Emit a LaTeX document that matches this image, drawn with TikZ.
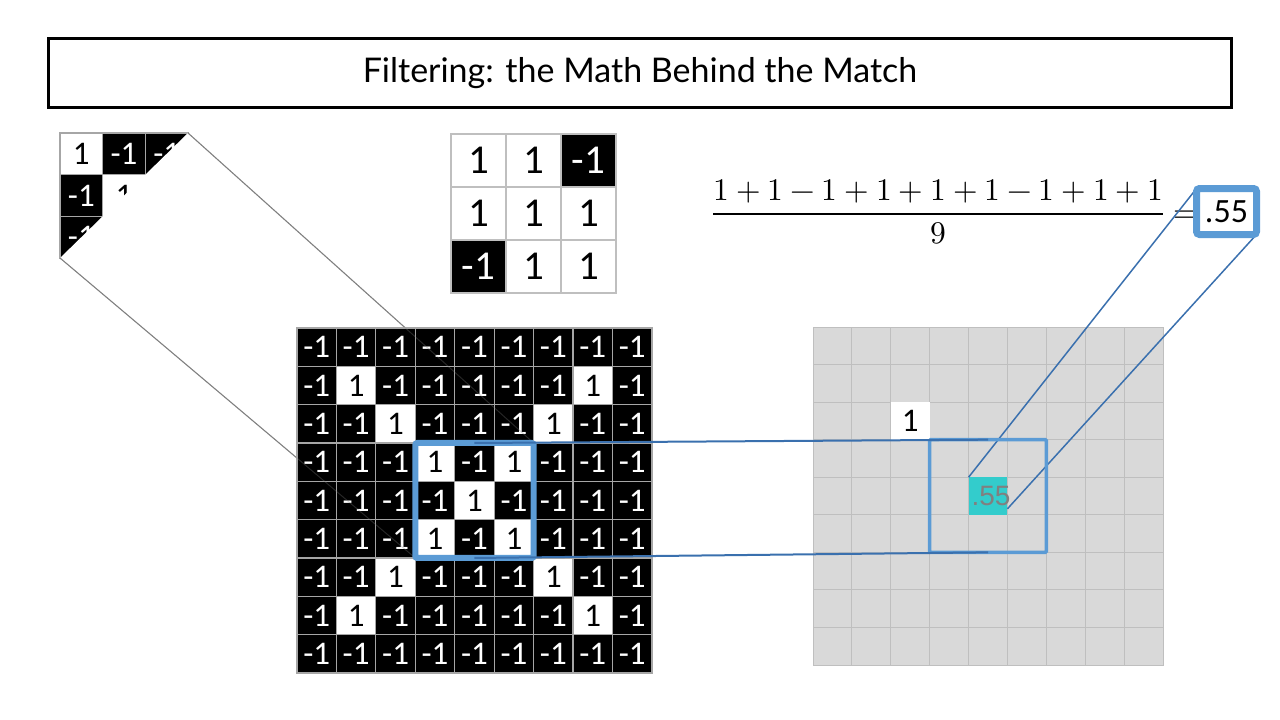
\documentclass[tikz,border=0pt]{standalone}
\usepackage{fontspec}
\usepackage{unicode-math}
\setmathfont{Latin Modern Math}
\usetikzlibrary{fit}
\newfontfamily\carlito{Carlito}
\newfontfamily\titlefnt{Lato}
\newfontfamily\arialfnt{Liberation Sans}
\definecolor{blueA}{HTML}{5B9BD5}
\definecolor{blueD}{HTML}{3A70AE}
\definecolor{tealc}{HTML}{33CCCC}
\definecolor{gridg}{HTML}{A6A6A6}
\definecolor{lightg}{HTML}{D9D9D9}
\definecolor{lineg}{HTML}{BFBFBF}
\definecolor{zoomg}{HTML}{7F7F7F}
\definecolor{valg}{HTML}{808080}
\pgfdeclarelayer{back}
\pgfdeclarelayer{front}
\pgfsetlayers{back,main,front}
\tikzset{
  cellbase/.style={rectangle, inner sep=0pt, outer sep=0pt, line width=1.2pt},
  bigP/.style={cellbase, fill=white, draw=gridg, text=black, minimum width=39.44pt, minimum height=38.33pt, font=\carlito\fontsize{33}{35}\selectfont},
  bigN/.style={bigP, fill=black, text=white},
  partP/.style={bigP, minimum width=42.67pt, minimum height=41.67pt},
  partN/.style={partP, fill=black, text=white},
  filtP/.style={cellbase, fill=white, draw=lineg, text=black, minimum width=55pt, minimum height=53pt, font=\carlito\fontsize{41}{43}\selectfont},
  filtN/.style={filtP, fill=black, text=white},
  rg/.style={cellbase, fill=lightg, draw=lineg, line width=1pt, minimum width=38.89pt, minimum height=37.56pt},
  hibox/.style={draw=blueA, rounded corners=2pt, inner sep=0pt, outer sep=0pt},
  conn/.style={draw=blueD, line width=2pt},
  thinconn/.style={draw=blueD, line width=1.5pt},
  zoomline/.style={draw=zoomg, line width=1pt},
}
\begin{document}
\begin{tikzpicture}[x=1pt,y=-1pt]
\useasboundingbox (0,0) rectangle (1280,720);

% title
\node[draw=black, line width=3pt, minimum width=1183pt, minimum height=69pt, inner sep=0pt,
      font=\titlefnt\fontsize{34}{38}\selectfont] (title) at (640,73) {Filtering: the Math Behind the Match};

% filter
\foreach \row [count=\r] in {{1,1,-1},{1,1,1},{-1,1,1}}{
  \foreach \v [count=\c] in \row {
    \ifnum\v>0
      \node[filtP] (F-\r-\c) at ({451+(\c-0.5)*55},{134+(\r-0.5)*53}) {1};
    \else
      \node[filtN] (F-\r-\c) at ({451+(\c-0.5)*55},{134+(\r-0.5)*53}) {-1};
    \fi
  }
}

% formula
\node[anchor=base west, inner sep=0pt] (frac) at (712,222)
  {\fontsize{31.5}{36}\selectfont $\dfrac{1+1-1+1+1+1-1+1+1}{9}=$};

% big grid
\foreach \row [count=\r] in {
 {-1,-1,-1,-1,-1,-1,-1,-1,-1},
 {-1,1,-1,-1,-1,-1,-1,1,-1},
 {-1,-1,1,-1,-1,-1,1,-1,-1},
 {-1,-1,-1,1,-1,1,-1,-1,-1},
 {-1,-1,-1,-1,1,-1,-1,-1,-1},
 {-1,-1,-1,1,-1,1,-1,-1,-1},
 {-1,-1,1,-1,-1,-1,1,-1,-1},
 {-1,1,-1,-1,-1,-1,-1,1,-1},
 {-1,-1,-1,-1,-1,-1,-1,-1,-1}}{
  \foreach \v [count=\c] in \row {
    \ifnum\v>0
      \node[bigP] (B-\r-\c) at ({297+(\c-0.5)*39.44},{328+(\r-0.5)*38.33}) {1};
    \else
      \node[bigN] (B-\r-\c) at ({297+(\c-0.5)*39.44},{328+(\r-0.5)*38.33}) {-1};
    \fi
  }
}

% right grid
\foreach \r in {1,...,9}{
  \foreach \c in {1,...,9}{
    \node[rg] (R-\r-\c) at ({813+(\c-0.5)*38.89},{327+(\r-0.5)*37.56}) {};
  }
}
\node[rg, draw=none, fill=white, font=\carlito\fontsize{33}{35}\selectfont] (Rone) at (R-3-3.center) {1};
\node[rg, draw=none, fill=tealc] (Rval) at (R-5-5.center) {};
\node[text=valg, font=\arialfnt\fontsize{28}{30}\selectfont, inner sep=0pt] (Rvaltext) at ([xshift=3pt]Rval.center) {.55};

% front layer: highlight boxes and connectors
\begin{pgfonlayer}{front}
  \node[hibox, line width=6pt, fit=(B-4-4)(B-6-6)] (bigbox) {};
  \node[hibox, line width=3.5pt, rounded corners=1pt, fit=(R-4-4)(R-6-6)] (smallbox) {};
  \node[hibox, line width=7pt, rounded corners=3pt, fill=white, minimum width=60pt, minimum height=46pt,
        font=\carlito\fontsize{34}{36}\selectfont] (res) at (1226.5,211.5) {.55};
  \draw[conn] (bigbox.north) -- (smallbox.north);
  \draw[conn] (bigbox.south) -- (smallbox.south);
\end{pgfonlayer}

% from the value cell to the result
\draw[thinconn] (Rval.north west) -- (res.north west);
\draw[thinconn] ([yshift=6pt]Rval.south east) -- (res.south east);

% back layer: leftover patch and zoom callout
\begin{pgfonlayer}{back}
  \foreach \row [count=\r] in {{1,-1,-1},{-1,1,-1},{-1,-1,1}}{
    \foreach \v [count=\c] in \row {
      \ifnum\v>0
        \node[partP] (P-\r-\c) at ({60+(\c-0.5)*42.67},{133+(\r-0.5)*41.67}) {1};
      \else
        \node[partN] (P-\r-\c) at ({60+(\c-0.5)*42.67},{133+(\r-0.5)*41.67}) {-1};
      \fi
    }
  }
  \fill[white] (P-1-3.north east) -- (bigbox.north east) -- (bigbox.south west) -- (P-3-1.south west) -- cycle;
  \draw[zoomline] (P-1-3.north east) -- (bigbox.north east);
  \draw[zoomline] (P-3-1.south west) -- (bigbox.south west);
\end{pgfonlayer}
\draw[zoomline, opacity=0.3] (P-1-3.north east) -- (bigbox.north east);
\draw[zoomline, opacity=0.3] (P-3-1.south west) -- (bigbox.south west);
\end{tikzpicture}
\end{document}
